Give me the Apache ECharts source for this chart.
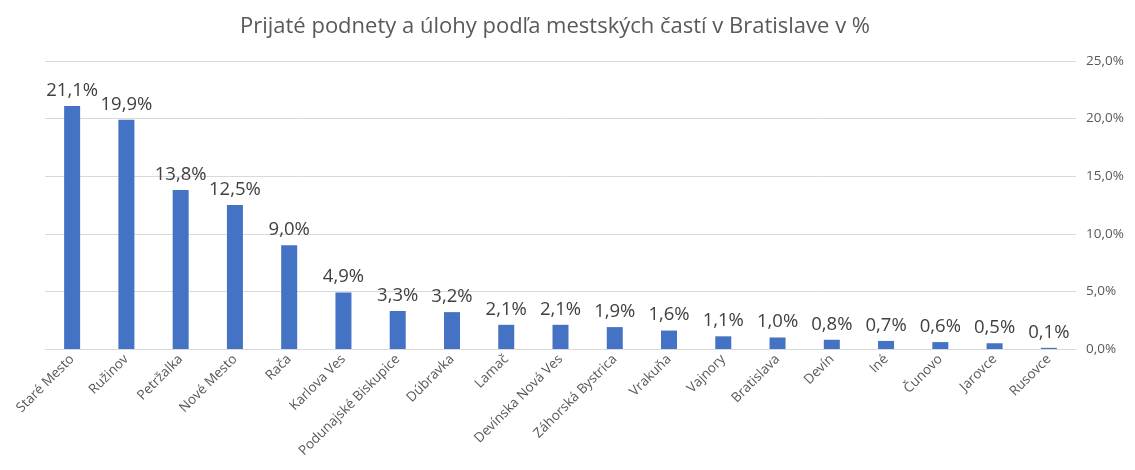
<!DOCTYPE html>
<html>
<head>
<meta charset="utf-8">
<script src="https://cdn.jsdelivr.net/npm/echarts@6/dist/echarts.min.js"></script>
<style>
    html, body { margin: 0; padding: 0; background: #fff; }
    #chart { width: 1135px; height: 470px; }
</style>
</head>
<body>
<div id="chart"></div>
<script>
const titleText = 'Prijaté podnety a úlohy podľa mestských častí v Bratislave v %';

const districts = [
    'Staré Mesto', 'Ružinov', 'Petržalka', 'Nové Mesto', 'Rača', 'Karlova Ves',
    'Podunajské Biskupice', 'Dúbravka', 'Lamač', 'Devínska Nová Ves',
    'Záhorská Bystrica', 'Vrakuňa', 'Vajnory', 'Bratislava', 'Devín', 'Iné',
    'Čunovo', 'Jarovce', 'Rusovce'
];

const shares = [21.1, 19.9, 13.8, 12.5, 9.0, 4.9, 3.3, 3.2, 2.1, 2.1, 1.9, 1.6, 1.1, 1.0, 0.8, 0.7, 0.6, 0.5, 0.1];

const yTicks = {min: 0, max: 25, interval: 5};

const fmtPct = function (v) {
    return Number(v).toFixed(1).replace('.', ',') + '%';
};

const font = '"Open Sans", "Noto Sans", sans-serif';

const chart = echarts.init(document.getElementById('chart'));
chart.setOption({
    backgroundColor: '#fff',
    animation: false,
    textStyle: {fontFamily: font},
    title: {
        text: titleText,
        left: 550,
        top: 11,
        textAlign: 'center',
        textStyle: {fontSize: 22, fontWeight: 'normal', color: '#595959', fontFamily: font}
    },
    grid: {left: 45, right: 59, top: 61, bottom: 121, containLabel: false},
    xAxis: {
        type: 'category',
        data: districts,
        axisLine: {lineStyle: {color: '#d9d9d9'}},
        axisTick: {show: false},
        axisLabel: {
            rotate: 45,
            interval: 0,
            color: '#595959',
            fontSize: 13.5,
            margin: 8
        }
    },
    yAxis: {
        type: 'value',
        position: 'right',
        min: yTicks.min,
        max: yTicks.max,
        interval: yTicks.interval,
        axisLine: {show: false},
        axisTick: {show: false},
        splitLine: {lineStyle: {color: '#d9d9d9'}},
        axisLabel: {
            color: '#595959',
            fontSize: 13.5,
            margin: 10,
            formatter: fmtPct
        }
    },
    series: [{
        type: 'bar',
        data: shares,
        barWidth: 16,
        itemStyle: {color: '#4472c4'},
        label: {
            show: true,
            position: 'top',
            distance: 6,
            color: '#404040',
            fontSize: 18.5,
            formatter: function (p) {
                return fmtPct(p.value);
            }
        }
    }]
});
</script>
</body>
</html>
